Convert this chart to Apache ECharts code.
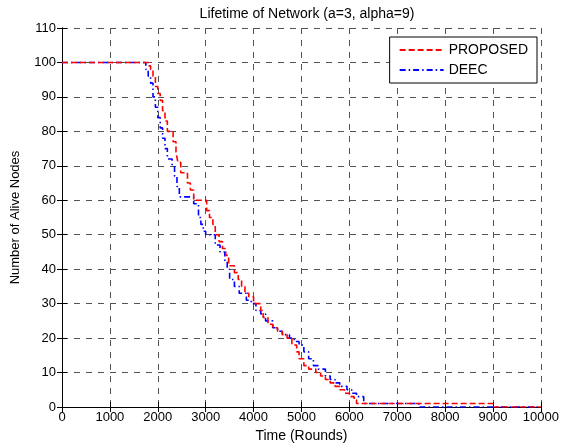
<!DOCTYPE html>
<html>
<head>
<meta charset="utf-8">
<script src="https://cdn.jsdelivr.net/npm/echarts@6/dist/echarts.min.js"></script>
<style>
  html, body { margin: 0; padding: 0; background: #fff; }
  #chart { width: 562px; height: 448px; }
</style>
</head>
<body>
<div id="chart"></div>
<script>
// Rounds at which the alive count changes, and the count from that round on
const proposedRounds = [0, 1800, 1850, 1900, 1950, 2000, 2050, 2100, 2150, 2200, 2320, 2380, 2420, 2480, 2620, 2680, 2750,
    3020, 3080, 3150, 3200, 3280, 3350, 3420, 3480, 3600, 3680, 3750, 3820, 3900, 4000, 4150, 4200, 4300, 4400,
    4500, 4600, 4700, 4800, 4900, 4950, 5050, 5150, 5300, 5400, 5500, 5600, 5700, 5800, 5900, 6000, 6100, 6150,
    9000, 9750, 10000];
const proposedAlive = [100, 99, 98, 96, 93, 91, 89, 86, 83, 80, 77, 74, 71, 68, 65, 63,
    60, 57, 55, 53, 50, 48, 46, 44, 41, 39, 37, 35, 33, 32, 30, 28, 26, 24,
    23, 22, 21, 20, 18, 16, 14, 12, 11, 10, 9, 8, 7, 6, 5, 4, 3, 2,
    1, 0, 0];

const deecRounds = [0, 1700, 1750, 1800, 1850, 1900, 1950, 2000, 2050, 2100, 2150, 2200, 2300, 2350, 2400, 2450,
    2750, 2850, 2900, 2950, 3000, 3200, 3300, 3400, 3450, 3500, 3600, 3700, 3850, 3950, 4050, 4150, 4250, 4400,
    4500, 4600, 4750, 4850, 4950, 5050, 5150, 5250, 5350, 5500, 5600, 5700, 5800, 5950, 6050, 6150, 6300,
    7450, 10000];
const deecAlive = [100, 100, 98, 96, 94, 90, 87, 84, 81, 78, 75, 72, 70, 67, 64, 61,
    59, 55, 53, 51, 50, 47, 45, 42, 40, 37, 35, 33, 31, 30, 28, 27, 25, 23,
    22, 21, 20, 19, 18, 16, 14, 12, 11, 9, 8, 7, 6, 5, 4, 3, 1,
    0, 0];

const seriesNames = ['PROPOSED', 'DEEC'];

function pairs(xs, ys) {
    return xs.map((x, i) => [x, ys[i]]);
}

const chart = echarts.init(document.getElementById('chart'));

const font = 'Liberation Sans, Arial, sans-serif';
const gridLine = { show: true, lineStyle: { color: '#555', width: 1, type: [6, 6] } };

const option = {
    animation: false,
    backgroundColor: '#fff',
    title: {
        text: 'Lifetime of Network (a=3, alpha=9)',
        left: 302, top: 2, textAlign: 'center',
        textStyle: { fontFamily: font, fontSize: 14, fontWeight: 'normal', color: '#000' }
    },
    legend: {
        right: 25, top: 37,
        orient: 'vertical',
        backgroundColor: '#fff',
        borderColor: '#000', borderWidth: 1, borderRadius: 0,
        padding: [6, 9, 6, 9],
        itemGap: 6,
        itemWidth: 44, itemHeight: 14,
        itemStyle: { opacity: 0 },
        textStyle: { fontFamily: font, fontSize: 14, color: '#000' },
        data: seriesNames
    },
    grid: { left: 62, right: 21, top: 28, bottom: 40 },
    xAxis: [{
        type: 'value', min: 0, max: 10000, interval: 1000,
        name: 'Time (Rounds)', nameLocation: 'middle', nameGap: 22,
        nameTextStyle: { fontFamily: font, fontSize: 14, color: '#000' },
        axisLine: { lineStyle: { color: '#000', width: 1 } },
        axisTick: { inside: true, length: 5, lineStyle: { color: '#000' } },
        axisLabel: { fontFamily: font, fontSize: 13, color: '#000', margin: 4, formatter: v => String(v) },
        splitLine: gridLine
    }, {
        type: 'value', position: 'top', min: 0, max: 10000, interval: 1000,
        axisLine: { show: true, lineStyle: { color: '#000', width: 1 } },
        axisTick: { inside: true, length: 5, lineStyle: { color: '#000' } },
        axisLabel: { show: false }, splitLine: { show: false }
    }],
    yAxis: [{
        type: 'value', min: 0, max: 110, interval: 10,
        name: 'Number of Alive Nodes', nameLocation: 'middle', nameGap: 40,
        nameTextStyle: { fontFamily: font, fontSize: 13, color: '#000' },
        axisLine: { show: true, lineStyle: { color: '#000', width: 1 } },
        axisTick: { show: true, inside: true, length: 5, lineStyle: { color: '#000' } },
        axisLabel: { fontFamily: font, fontSize: 13, color: '#000', margin: 6 },
        splitLine: gridLine
    }, {
        type: 'value', position: 'right', min: 0, max: 110, interval: 10,
        axisLine: { show: true, lineStyle: { color: '#000', width: 1 } },
        axisTick: { show: true, inside: true, length: 5, lineStyle: { color: '#000' } },
        axisLabel: { show: false }, splitLine: { show: false }
    }],
    series: [{
        name: 'PROPOSED',
        type: 'line', step: 'end', symbol: 'none',
        data: pairs(proposedRounds, proposedAlive),
        color: '#ff0000',
        lineStyle: { color: '#ff0000', width: 1.6, type: [6, 3] },
        z: 3
    }, {
        name: 'DEEC',
        type: 'line', step: 'end', symbol: 'none',
        data: pairs(deecRounds, deecAlive),
        color: '#0000ff',
        lineStyle: { color: '#0000ff', width: 1.6, type: [6, 3, 1.5, 3] },
        z: 2
    }]
};

chart.setOption(option);
</script>
</body>
</html>
